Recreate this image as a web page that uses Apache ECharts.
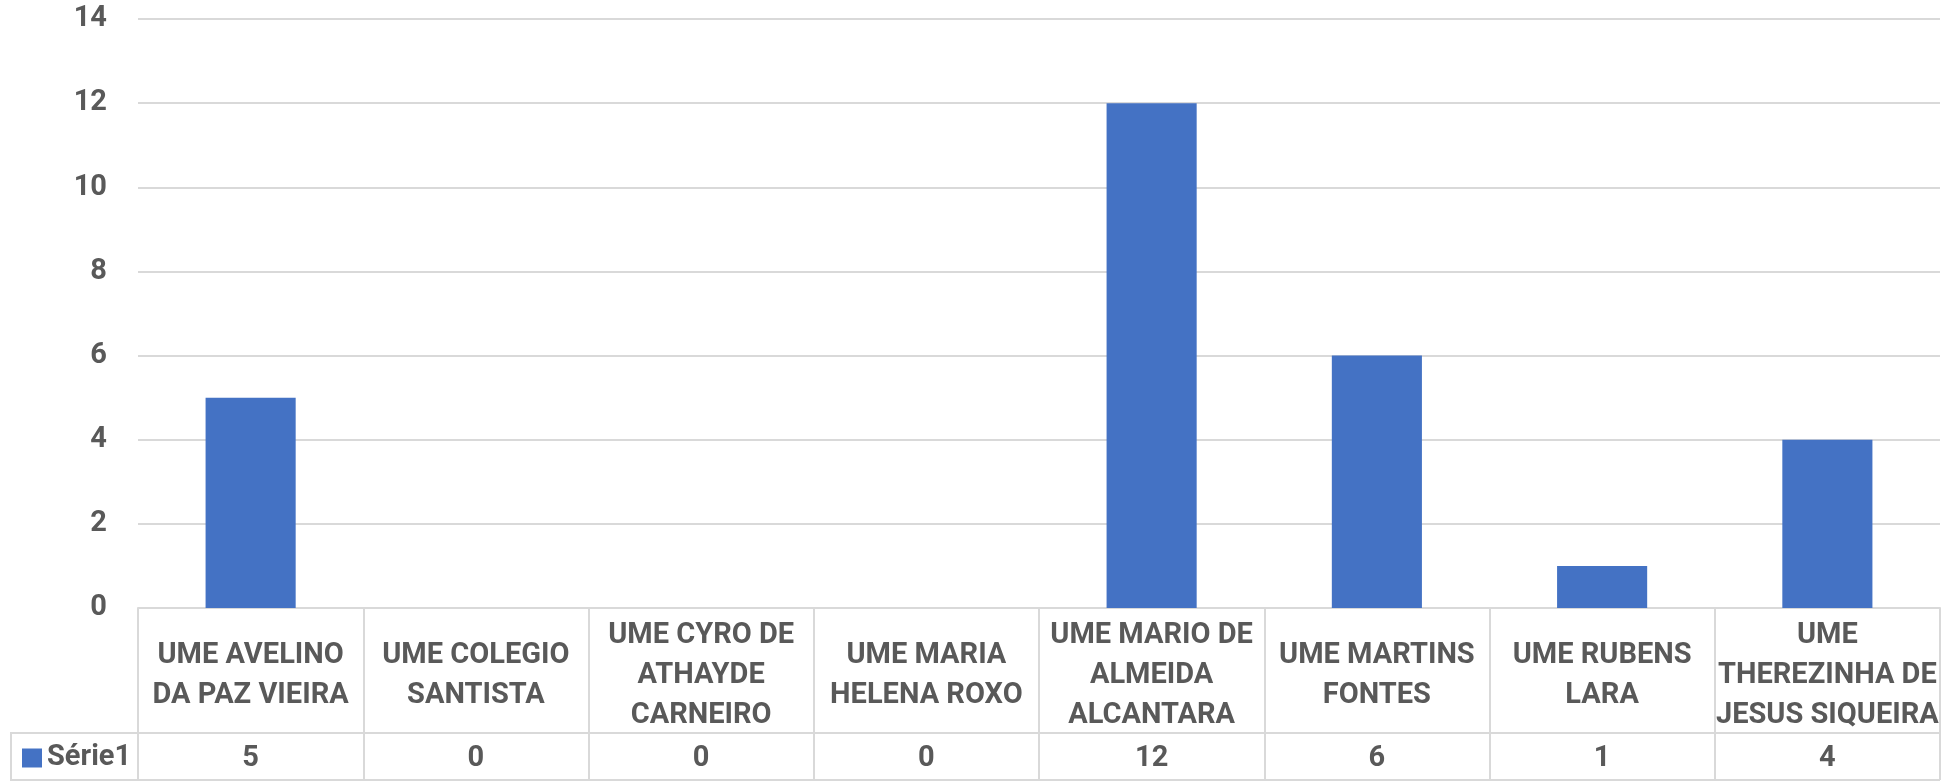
<!DOCTYPE html>
<html>
<head>
<meta charset="utf-8">
<title>UME - Série1</title>
<script src="https://cdn.jsdelivr.net/npm/echarts@6/dist/echarts.min.js"></script>
<style>
    html, body { margin: 0; padding: 0; background: #fff; }
    #chart { width: 1942px; height: 781px; }
</style>
</head>
<body>
<div id="chart"></div>
<script>
    // dados do gráfico
    var categories = [
        'UME AVELINO\nDA PAZ VIEIRA',
        'UME COLEGIO\nSANTISTA',
        'UME CYRO DE\nATHAYDE\nCARNEIRO',
        'UME MARIA\nHELENA ROXO',
        'UME MARIO DE\nALMEIDA\nALCANTARA',
        'UME MARTINS\nFONTES',
        'UME RUBENS\nLARA',
        'UME\nTHEREZINHA DE\nJESUS SIQUEIRA'
    ];
    var serieName = 'Série1';
    var serie1 = [5, 0, 0, 0, 12, 6, 1, 4];
    var yMin = 0, yMax = 14, yStep = 2;

    var txtColor = '#595959';
    var lineColor = '#d9d9d9';
    var font = 'Roboto, "Open Sans", sans-serif';

    var myChart = echarts.init(document.getElementById('chart'));

    var option = {
        animation: false,
        textStyle: { fontFamily: font },
        legend: {
            data: [serieName],
            left: 22,
            top: 743,
            padding: 0,
            icon: 'rect',
            itemWidth: 20,
            itemHeight: 19,
            textStyle: {
                color: txtColor,
                fontSize: 29,
                fontWeight: 'bold',
                fontFamily: font,
                lineHeight: 30
            }
        },
        grid: {
            left: 138,
            right: 2,
            top: 19,
            bottom: 173
        },
        xAxis: [{
                type: 'category',
                data: categories,
                boundaryGap: true,
                axisLine: { show: true, lineStyle: { color: lineColor, width: 2 } },
                axisTick: { show: true, interval: 0, length: 172, lineStyle: { color: lineColor, width: 2 } },
                axisLabel: {
                    interval: 0,
                    margin: 68,
                    verticalAlign: 'middle',
                    color: txtColor,
                    fontSize: 29,
                    fontWeight: 'bold',
                    fontFamily: font,
                    lineHeight: 40,
                    align: 'center'
                }
            },
            {
                // linha de valores da tabela
                type: 'category',
                data: categories,
                position: 'bottom',
                offset: 125,
                axisLine: { show: true, lineStyle: { color: lineColor, width: 2 } },
                axisTick: { show: false },
                axisLabel: {
                    interval: 0,
                    margin: 26,
                    verticalAlign: 'middle',
                    color: txtColor,
                    fontSize: 29,
                    fontWeight: 'bold',
                    fontFamily: font,
                    formatter: function (value, index) {
                        return String(serie1[index]);
                    }
                }
            }
        ],
        yAxis: {
            type: 'value',
            min: yMin,
            max: yMax,
            interval: yStep,
            axisLine: { show: false },
            axisTick: { show: false },
            splitLine: { lineStyle: { color: lineColor, width: 2 } },
            axisLabel: {
                margin: 31,
                color: txtColor,
                fontSize: 29,
                fontWeight: 'bold',
                fontFamily: font
            }
        },
        // moldura da célula da legenda e linha inferior da tabela
        graphic: [{
                type: 'rect',
                shape: { x: 11, y: 733, width: 127, height: 47 },
                style: { fill: 'none', stroke: lineColor, lineWidth: 2 },
                silent: true
            },
            {
                type: 'line',
                shape: { x1: 138, y1: 780, x2: 1940, y2: 780 },
                style: { stroke: lineColor, lineWidth: 2 },
                silent: true
            }
        ],
        series: [{
            name: serieName,
            type: 'bar',
            xAxisIndex: 0,
            barWidth: '40%',
            itemStyle: { color: '#4472c4' },
            data: serie1
        }]
    };

    myChart.setOption(option);
</script>
</body>
</html>
